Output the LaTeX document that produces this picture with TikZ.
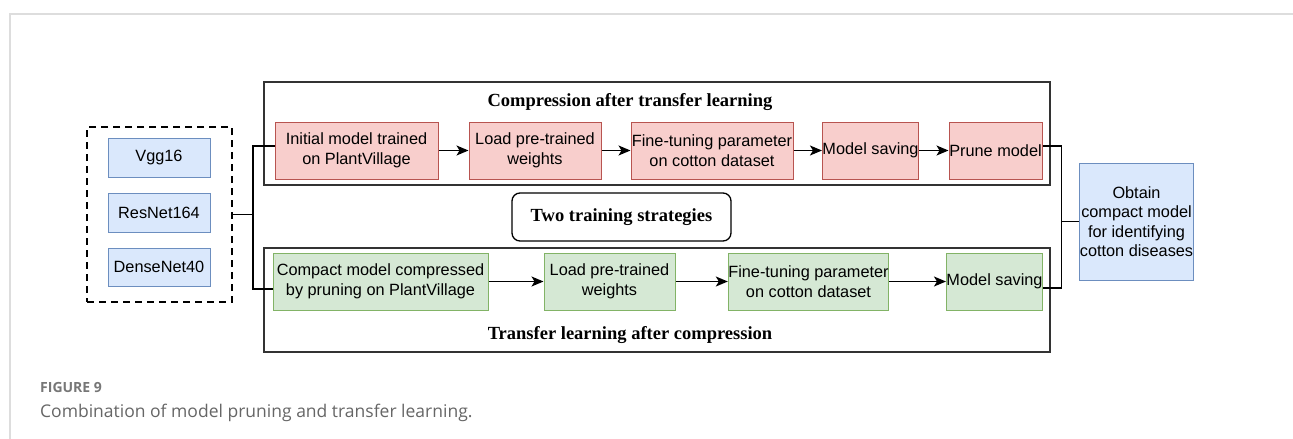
\documentclass[tikz,border=0pt]{standalone}
\usepackage{fontspec}
\setmainfont{Liberation Sans}
\newfontfamily\titlefont{Liberation Serif}
\newfontfamily\capfont{Open Sans}
\usetikzlibrary{arrows.meta}
\definecolor{redfill}{HTML}{F8CECC}
\definecolor{redline}{HTML}{B85450}
\definecolor{greenfill}{HTML}{D5E8D4}
\definecolor{greenline}{HTML}{82B366}
\definecolor{bluefill}{HTML}{DAE8FC}
\definecolor{blueline}{HTML}{6C8EBF}
\definecolor{framegray}{HTML}{333333}
\definecolor{pagegray}{HTML}{DDDDDD}
\definecolor{captiongray}{HTML}{666666}
\definecolor{figgray}{HTML}{777777}
\tikzset{
  box/.style={draw, line width=1pt, align=center, inner sep=0pt, font=\fontsize{16.3}{20}\selectfont},
  redbox/.style={box, fill=redfill, draw=redline},
  greenbox/.style={box, fill=greenfill, draw=greenline},
  bluebox/.style={box, fill=bluefill, draw=blueline},
  frame/.style={draw=framegray, line width=1.6pt},
  titletext/.style={font=\titlefont\bfseries\fontsize{18.5}{22}\selectfont, inner sep=0pt},
  conn/.style={draw=black, line width=1.4pt},
  arr/.style={conn, -{Stealth[length=12pt,width=10pt,inset=3pt]}},
}
\begin{document}
\begin{tikzpicture}[x=1pt,y=-1pt]
\useasboundingbox[fill=white] (0,0) rectangle (1293,439);
% page frame
\draw[pagegray, line width=1.5pt] (10,439) -- (10,14) -- (1293,14);
% left group
\node[draw, line width=1.8pt, dash pattern=on 7pt off 5pt, minimum width=145pt, minimum height=175pt, inner sep=0pt] (grp) at (159.5,214.5) {};
\node[bluebox, minimum width=102pt, minimum height=39pt] (vgg) at (159,157.5) {Vgg16};
\node[bluebox, minimum width=102pt, minimum height=39pt] (res) at (159,212.5) {ResNet164};
\node[bluebox, minimum width=102pt, minimum height=38pt] (dense) at (159,267) {DenseNet40};
% frames
\node[frame, minimum width=786pt, minimum height=103pt, inner sep=0pt] (topf) at (657,133.5) {};
\node[frame, minimum width=786pt, minimum height=104pt, inner sep=0pt] (botf) at (657,300) {};
\node[titletext] (t1) at (630,102) {Compression after transfer learning};
\node[titletext] (t2) at (630,335) {Transfer learning after compression};
\node[draw=black, line width=1.3pt, rounded corners=8pt, minimum width=219pt, minimum height=48pt, font=\titlefont\bfseries\fontsize{18.5}{22}\selectfont] (two) at (621.5,217) {Two training strategies};
% red row
\node[redbox, minimum width=163pt, minimum height=57pt] (r1) at (356.5,150.5) {Initial model trained\\on PlantVillage};
\node[redbox, minimum width=132pt, minimum height=57pt] (r2) at (535,150.5) {Load pre-trained\\weights};
\node[redbox, minimum width=162pt, minimum height=57pt] (r3) at (712,150.5) {Fine-tuning parameter\\on cotton dataset};
\node[redbox, minimum width=95pt, minimum height=57pt] (r4) at (870.5,150.5) {Model saving};
\node[redbox, minimum width=93pt, minimum height=57pt] (r5) at (995.5,150.5) {Prune model};
% green row
\node[greenbox, minimum width=215pt, minimum height=57pt] (g1) at (380.5,281.5) {Compact model compressed\\by pruning on PlantVillage};
\node[greenbox, minimum width=131pt, minimum height=57pt] (g2) at (609.5,281.5) {Load pre-trained\\weights};
\node[greenbox, minimum width=157pt, minimum height=57pt] (g3) at (808.5,281.5) {Fine-tuning parameter\\on cotton dataset};
\node[greenbox, minimum width=95pt, minimum height=57pt] (g4) at (994.5,281.5) {Model saving};
% result
\node[bluebox, minimum width=111pt, minimum height=117pt, font=\fontsize{16.3}{19.5}\selectfont] (obt) at (1136.5,221.5) {Obtain\\compact model\\for identifying\\cotton diseases};
% arrows
\draw[arr] (r1) -- (r2);
\draw[arr] (r2) -- (r3);
\draw[arr] (r3) -- (r4);
\draw[arr] (r4) -- (r5);
\draw[arr] (g1) -- (g2);
\draw[arr] (g2) -- (g3);
\draw[arr] (g3) -- (g4);
% connector end points
\coordinate (r1in) at ([yshift=4.5pt]r1.west);
\coordinate (g1in) at ([yshift=-7.5pt]g1.west);
\coordinate (r5out) at ([yshift=4.5pt]r5.east);
\coordinate (g4out) at ([yshift=-6.5pt]g4.east);
% left connectors
\coordinate (jl) at (253,217);
\draw[conn] (grp.east) -- (grp.east -| jl);
\draw[conn] (r1in) -| (jl |- g1in) -- (g1in);
% right connectors
\coordinate (jr) at (1061.5,217);
\draw[conn] (r5out) -| (jr |- g4out) -- (g4out);
\draw[conn] (jr |- obt.west) -- (obt.west);
% caption
\node[anchor=base west, inner sep=0pt, text=figgray, font=\capfont\bfseries\fontsize{14}{17}\selectfont] (fig) at (40,392) {FIGURE 9};
\node[anchor=base west, inner sep=0pt, text=captiongray, font=\capfont\fontsize{17.5}{20}\selectfont] (cap) at (40,417) {Combination of model pruning and transfer learning.};
\end{tikzpicture}
\end{document}
